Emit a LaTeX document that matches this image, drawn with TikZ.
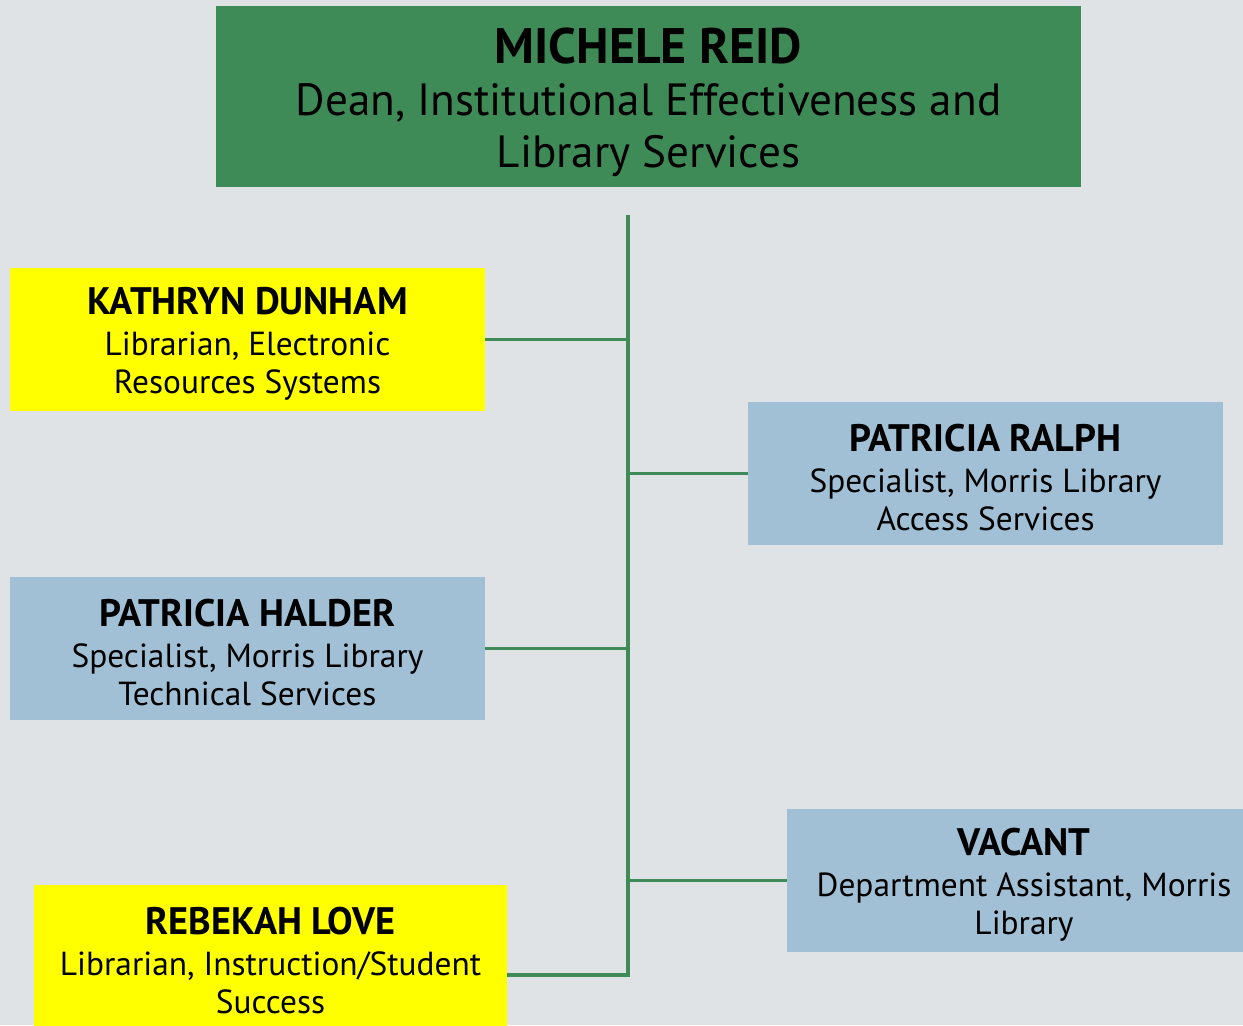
\documentclass[tikz,border=0pt]{standalone}
\usepackage{fontspec}
\setmainfont{PT Sans}
\usepackage{xcolor}
\usetikzlibrary{positioning}

\definecolor{bggray}{RGB}{223,227,230}
\definecolor{deangreen}{RGB}{63,139,88}
\definecolor{staffblue}{RGB}{161,192,213}
\definecolor{libyellow}{RGB}{255,255,0}

\newcommand{\staffname}[1]{{\fontsize{21.8}{24}\selectfont\bfseries\rule{0pt}{20pt}#1}}
\newcommand{\deanname}[1]{{\fontsize{28.4}{30}\selectfont\bfseries\rule{0pt}{27pt}#1}}

\begin{document}
\begin{tikzpicture}[
        x=0.02cm, y=-0.02cm,
        box/.style={rectangle, inner sep=0pt, minimum height=2.86cm, minimum width=9.5cm, align=center,
            font=\fontsize{19}{21.5}\selectfont},
        head/.style={rectangle, inner sep=0pt, minimum height=3.62cm, minimum width=17.3cm, align=center,
            fill=deangreen, font=\fontsize{25.7}{29.5}\selectfont},
        link/.style={draw=deangreen, line width=1.9pt}
    ]
        % Background
        \path[use as bounding box, fill=bggray] (0,0) rectangle (1243,1025);

        % Nodes
        \node[head] (dean) at (648.5,96.5) {\deanname{MICHELE REID}\\Dean, Institutional Effectiveness and\\Library Services};
        \node[box, fill=libyellow] (dunham) at (247.5,339.5) {\staffname{KATHRYN DUNHAM}\\[2pt]Librarian, Electronic\\Resources Systems};
        \node[box, fill=staffblue] (ralph) at (985.5,473.5) {\staffname{PATRICIA RALPH}\\[2pt]Specialist, Morris Library\\Access Services};
        \node[box, fill=staffblue] (halder) at (247.5,648.5) {\staffname{PATRICIA HALDER}\\[2pt]Specialist, Morris Library\\Technical Services};
        \node[box, fill=staffblue, minimum width=9.48cm] (vacant) at (1024,880.5) {\staffname{VACANT}\\[2pt]Department Assistant, Morris\\Library};
        \node[box, fill=libyellow, minimum width=9.46cm] (love) at (270.5,956.5) {\staffname{REBEKAH LOVE}\\[2pt]Librarian, Instruction/Student\\Success};

        % Trunk
        \coordinate (trunktop) at (628,215);
        \coordinate (trunkbot) at (628,975);

        % Lines
        \draw[link] (trunktop) -- (trunkbot) -- (trunkbot -| love.east);
        \draw[link] (dunham.east) -- (dunham.east -| trunktop);
        \draw[link] (ralph.west) -- (ralph.west -| trunktop);
        \draw[link] (halder.east) -- (halder.east -| trunktop);
        \draw[link] (vacant.west) -- (vacant.west -| trunktop);
    \end{tikzpicture}
\end{document}
